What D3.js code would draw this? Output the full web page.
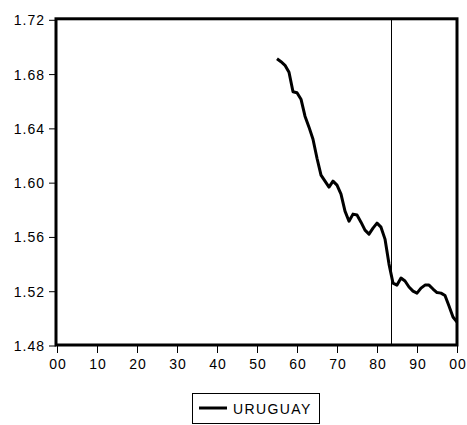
<!DOCTYPE html>
<html>
<head>
<meta charset="utf-8">
<script src="https://cdn.jsdelivr.net/npm/d3@7"></script>
<style>
  html, body { margin: 0; padding: 0; background: #fff; }
  svg { display: block; }
  text { font-family: "Liberation Sans", Arial, sans-serif; fill: #000; }
</style>
</head>
<body>
<svg id="chart" width="467" height="425"></svg>
<script>
// Annual series, 1955-2000
const years = d3.range(1955, 2001);
const uruguay = [
  1.6913, 1.6891, 1.6865, 1.6813, 1.6670, 1.6663, 1.6615, 1.6490, 1.6409, 1.6320,
  1.6180, 1.6055, 1.6011, 1.5967, 1.6011, 1.5982, 1.5915, 1.5790, 1.5716, 1.5768,
  1.5761, 1.5709, 1.5650, 1.5621, 1.5665, 1.5702, 1.5672, 1.5584, 1.5400, 1.5260,
  1.5245, 1.5297, 1.5275, 1.5231, 1.5201, 1.5186, 1.5223, 1.5245, 1.5245, 1.5216,
  1.5190, 1.5186, 1.5168, 1.5091, 1.5010, 1.4973
];
const seriesName = "URUGUAY";

// Axis ticks
const yTicks = [1.48, 1.52, 1.56, 1.60, 1.64, 1.68, 1.72];
const xTicks = [1900, 1910, 1920, 1930, 1940, 1950, 1960, 1970, 1980, 1990, 2000];
const xTickLabels = ["00", "10", "20", "30", "40", "50", "60", "70", "80", "90", "00"];

// Break between 1983 and 1984 marked by a vertical rule
const breakYear = 1983.5;

const svg = d3.select("#chart");

const x = d3.scaleLinear().domain([1900, 2000]).range([57, 457]);
const y = d3.scaleLinear().domain([1.48, 1.72]).range([345.5, 19.8]);

const plotLeft = 56, plotRight = 457, plotTop = 18.8, plotBottom = 345;

// Y axis
const yAxis = svg.append("g")
  .attr("transform", `translate(${plotLeft},0)`)
  .call(d3.axisLeft(y).tickValues(yTicks).tickFormat(d3.format(".2f"))
    .tickSize(7).tickSizeOuter(0).tickPadding(5));
yAxis.select(".domain").remove();
yAxis.selectAll(".tick line").attr("stroke", "#000").attr("stroke-width", 1);
yAxis.selectAll(".tick text")
  .attr("font-size", 14).attr("letter-spacing", "1px")
  .attr("dy", "0.36em").attr("dx", "1px");

// X axis
const xAxis = svg.append("g")
  .attr("transform", `translate(0,${plotBottom})`)
  .call(d3.axisBottom(x).tickValues(xTicks).tickFormat((d, i) => xTickLabels[i])
    .tickSize(8).tickSizeOuter(0).tickPadding(6));
xAxis.select(".domain").remove();
xAxis.selectAll(".tick line").attr("stroke", "#000").attr("stroke-width", 1);
xAxis.selectAll(".tick text")
  .attr("font-size", 14).attr("letter-spacing", "1px").attr("dx", "0.5px");

// Vertical break rule
const bx = Math.round(x(breakYear)) + 0.5;
svg.append("line")
  .attr("x1", bx).attr("x2", bx)
  .attr("y1", plotTop).attr("y2", plotBottom)
  .attr("stroke", "#000").attr("stroke-width", 1);

// Series line
const line = d3.line()
  .x((d, i) => x(years[i]))
  .y(d => y(d));
svg.append("path")
  .datum(uruguay)
  .attr("d", line)
  .attr("fill", "none")
  .attr("stroke", "#000")
  .attr("stroke-width", 3)
  .attr("stroke-linejoin", "round");

// Plot frame
svg.append("rect")
  .attr("x", plotLeft).attr("y", plotTop)
  .attr("width", plotRight - plotLeft).attr("height", plotBottom - plotTop)
  .attr("fill", "none").attr("stroke", "#000").attr("stroke-width", 3);

// Legend
const lg = svg.append("g");
lg.append("rect")
  .attr("x", 192.5).attr("y", 393.5).attr("width", 127).attr("height", 30)
  .attr("fill", "#fff").attr("stroke", "#000").attr("stroke-width", 1);
lg.append("line")
  .attr("x1", 199).attr("x2", 227).attr("y1", 408).attr("y2", 408)
  .attr("stroke", "#000").attr("stroke-width", 3);
lg.append("text")
  .attr("x", 233).attr("y", 413.5)
  .attr("font-size", 14).attr("letter-spacing", "1.4px")
  .text(seriesName);
</script>
</body>
</html>
